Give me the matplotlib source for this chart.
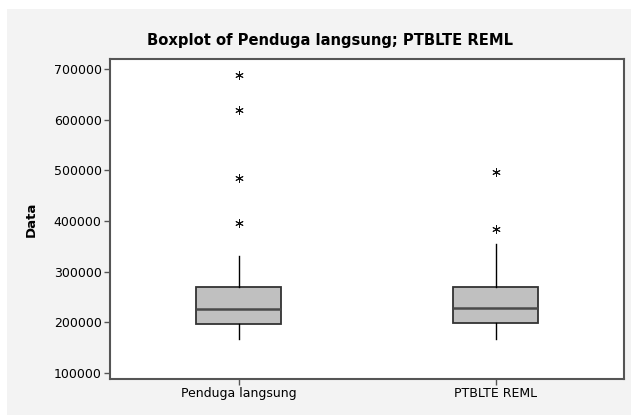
import matplotlib
matplotlib.use("Agg")
import matplotlib.pyplot as plt
from matplotlib.patches import Rectangle

# values
labels = ["Penduga langsung", "PTBLTE REML"]
q1 = [195700, 198900]
med = [226000, 228500]
q3 = [270000, 270000]
whislo = [166000, 166000]
whishi = [330000, 354000]
outliers = [[397000, 485000, 619000, 688000], [385000, 497500]]

stats = []
for i in range(len(labels)):
    stats.append(dict(label=labels[i], q1=q1[i], med=med[i], q3=q3[i],
                      whislo=whislo[i], whishi=whishi[i], fliers=outliers[i]))

fig = plt.figure(figsize=(6.31, 4.15), dpi=100, facecolor="white")
fig.patches.append(Rectangle((7 / 631, 0), 1, 1 - 9 / 415, transform=fig.transFigure,
                             facecolor="#f3f3f3", edgecolor="none", zorder=-10))
ax = fig.add_axes([110 / 631, 1 - 378.7 / 415, 514 / 631, 319.4 / 415])
ax.set_facecolor("white")

ax.bxp(stats, positions=[1, 2], widths=0.33, patch_artist=True, showcaps=False,
       boxprops=dict(facecolor="#c0c0c0", edgecolor="#333333", linewidth=1.3),
       medianprops=dict(color="#4a4a4a", linewidth=1.8),
       whiskerprops=dict(color="black", linewidth=1),
       flierprops=dict(marker=(6, 2, 0), markersize=6, markeredgecolor="#111111",
                       markerfacecolor="#111111", markeredgewidth=0.7))

ax.set_xlim(0.5, 2.5)
ax.set_ylim(88100, 719800)
ax.set_yticks([100000, 200000, 300000, 400000, 500000, 600000, 700000])
ax.set_yticklabels([str(v) for v in ax.get_yticks().astype(int)])
ax.set_xticks([1, 2])
ax.set_xticklabels(labels)

for s in ax.spines.values():
    s.set_color("#555555")
    s.set_linewidth(1.5)
ax.tick_params(axis="both", direction="out", length=4, width=1, color="#555555",
               labelsize=9, labelcolor="black", pad=2)

ax.set_ylabel("Data", fontsize=9.5, fontweight="bold")
ax.yaxis.set_label_coords(-0.140, 0.5)
fig.text(330 / 631, 1 - 40 / 415, "Boxplot of Penduga langsung; PTBLTE REML",
         fontsize=10.6, fontweight="bold", ha="center", va="center")

fig.savefig("out.png", dpi=100, facecolor=fig.get_facecolor())
